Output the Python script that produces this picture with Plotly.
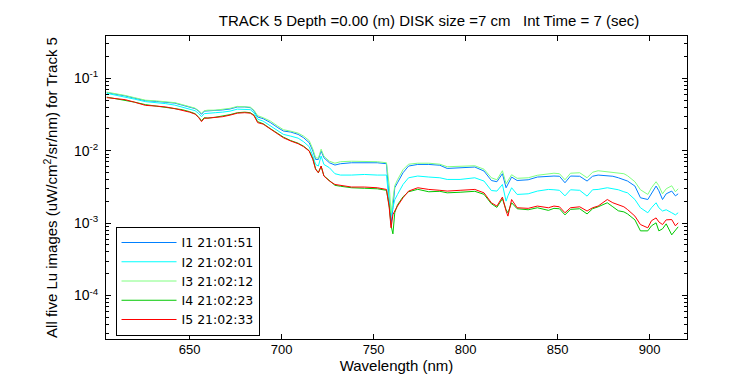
import plotly.graph_objects as go

# Wavelength grid (nm)
wavelength = [605, 610, 615, 620, 626, 632, 637, 642, 646, 650, 653, 655, 656.5, 658, 660, 664, 668, 672, 676, 680,
              683, 685, 687, 690, 694, 698, 701, 705, 709, 712, 715, 717, 718.5, 720, 721.5, 723, 726, 729, 732, 738,
              745, 752, 757, 758.5, 759.5, 760.5, 761.5, 763, 766, 769, 774, 780, 786, 790, 797, 805, 810, 814, 817, 820,
              822, 823, 825, 828, 834, 839, 845, 848, 851, 854, 857, 862, 866, 869, 872, 877, 880, 883, 886, 888,
              892, 895, 899, 901, 903.5, 905, 907, 909, 912, 914, 915.5]

# I1 21:01:51 (blue)
lu_i1 = [0.0634, 0.0605, 0.0571, 0.0532, 0.0491, 0.0479, 0.0472, 0.0454, 0.0426, 0.0400, 0.0381, 0.0352, 0.0318, 0.0352, 0.0354, 0.0357, 0.0366, 0.0377, 0.0402, 0.0402,
         0.0393, 0.0354, 0.0292, 0.0277, 0.0244, 0.0208, 0.0187, 0.0181, 0.0168, 0.0151, 0.0129, 0.00990, 0.00758, 0.00758, 0.00990, 0.00800, 0.00682, 0.00634, 0.00661, 0.00682,
         0.00682, 0.00682, 0.00661, 0.00224, 0.000956, 0.00163, 0.00308, 0.00361, 0.00496, 0.00614, 0.00646, 0.00646, 0.00630, 0.00569, 0.00582, 0.00595, 0.00524, 0.00388, 0.00373, 0.00481,
         0.00308, 0.00350, 0.00433, 0.00388, 0.00397, 0.00433, 0.00447, 0.00447, 0.00444, 0.00361, 0.00447, 0.00444, 0.00381, 0.00444, 0.00461, 0.00451, 0.00444, 0.00423, 0.00403, 0.00381,
         0.00325, 0.00224, 0.00212, 0.00262, 0.00325, 0.00280, 0.00212, 0.00254, 0.00277, 0.00238, 0.00254]

# I2 21:02:01 (cyan)
lu_i2 = [0.0620, 0.0586, 0.0550, 0.0516, 0.0476, 0.0461, 0.0447, 0.0426, 0.0400, 0.0375, 0.0357, 0.0325, 0.0295, 0.0325, 0.0330, 0.0335, 0.0341, 0.0352, 0.0375, 0.0375,
         0.0369, 0.0335, 0.0273, 0.0256, 0.0220, 0.0191, 0.0168, 0.0159, 0.0149, 0.0133, 0.01136, 0.00845, 0.00646, 0.00614, 0.00845, 0.00646, 0.00582, 0.00481, 0.00461, 0.00461,
         0.00470, 0.00461, 0.00461, 0.00191, 0.00126, 0.00163, 0.00210, 0.00249, 0.00342, 0.00423, 0.00447, 0.00433, 0.00423, 0.00401, 0.00401, 0.00423, 0.00381, 0.00282, 0.00277, 0.00342,
         0.00201, 0.00238, 0.00308, 0.00249, 0.00254, 0.00277, 0.00292, 0.00289, 0.00284, 0.00238, 0.00289, 0.00284, 0.00236, 0.00289, 0.00292, 0.00308, 0.00298, 0.00289, 0.00271, 0.00262,
         0.00212, 0.00163, 0.00139, 0.00163, 0.00191, 0.00163, 0.00147, 0.00153, 0.00139, 0.00130, 0.00139]

# I3 21:02:12 (light green)
lu_i3 = [0.0644, 0.0614, 0.0580, 0.0541, 0.0499, 0.0487, 0.0479, 0.0461, 0.0433, 0.0406, 0.0387, 0.0357, 0.0330, 0.0357, 0.0363, 0.0363, 0.0371, 0.0385, 0.0409, 0.0409,
         0.0400, 0.0363, 0.0305, 0.0286, 0.0256, 0.0218, 0.0195, 0.0186, 0.0175, 0.0159, 0.0138, 0.0105, 0.00800, 0.00788, 0.0105, 0.00839, 0.00716, 0.00672, 0.00705, 0.00716,
         0.00716, 0.00705, 0.00682, 0.00328, 0.00139, 0.00203, 0.00328, 0.00397, 0.00546, 0.00651, 0.00672, 0.00672, 0.00651, 0.00601, 0.00610, 0.00620, 0.00555, 0.00423, 0.00397, 0.00529,
         0.00350, 0.00385, 0.00466, 0.00416, 0.00423, 0.00458, 0.00481, 0.00489, 0.00481, 0.00397, 0.00489, 0.00496, 0.00423, 0.00504, 0.00529, 0.00512, 0.00504, 0.00489, 0.00481, 0.00451,
         0.00373, 0.00289, 0.00249, 0.00308, 0.00373, 0.00328, 0.00254, 0.00298, 0.00328, 0.00271, 0.00298]

# I4 21:02:23 (green)
lu_i4 = [0.0550, 0.0524, 0.0499, 0.0469, 0.0433, 0.0413, 0.0400, 0.0381, 0.0369, 0.0346, 0.0325, 0.0290, 0.0260, 0.0286, 0.0282, 0.0290, 0.0300, 0.0315, 0.0335, 0.0341,
         0.0335, 0.0310, 0.0252, 0.0236, 0.0201, 0.0172, 0.0154, 0.0138, 0.0127, 0.01154, 0.0100, 0.00775, 0.00564, 0.00496, 0.00610, 0.00451, 0.00385, 0.00333, 0.00323, 0.00308,
         0.00303, 0.00298, 0.00284, 0.00173, 0.000918, 0.000711, 0.00139, 0.00179, 0.00231, 0.00271, 0.00293, 0.00271, 0.00275, 0.00262, 0.00267, 0.00275, 0.00250, 0.00185, 0.00165, 0.00217,
         0.00153, 0.00139, 0.00191, 0.00158, 0.00153, 0.00163, 0.00150, 0.00160, 0.00158, 0.00130, 0.00155, 0.00158, 0.00134, 0.00158, 0.00168, 0.00191, 0.00168, 0.00148, 0.00143, 0.00134,
         0.00111, 0.000782, 0.000782, 0.000918, 0.00101, 0.000782, 0.000834, 0.000978, 0.000689, 0.000808, 0.000889]

# I5 21:02:33 (red)
lu_i5 = [0.0541, 0.0524, 0.0507, 0.0469, 0.0423, 0.0413, 0.0402, 0.0381, 0.0363, 0.0341, 0.0320, 0.0286, 0.0252, 0.0280, 0.0282, 0.0286, 0.0295, 0.0310, 0.0330, 0.0335,
         0.0330, 0.0305, 0.0244, 0.0233, 0.0197, 0.0168, 0.0151, 0.0136, 0.0125, 0.01136, 0.00990, 0.00758, 0.00551, 0.00496, 0.00614, 0.00447, 0.00381, 0.00342, 0.00331, 0.00315,
         0.00315, 0.00308, 0.00292, 0.00163, 0.000861, 0.00131, 0.00147, 0.00172, 0.00224, 0.00277, 0.00308, 0.00292, 0.00284, 0.00277, 0.00284, 0.00292, 0.00262, 0.00191, 0.00172, 0.00229,
         0.00147, 0.00125, 0.00212, 0.00163, 0.00160, 0.00172, 0.00163, 0.00172, 0.00168, 0.00139, 0.00163, 0.00168, 0.00147, 0.00163, 0.00172, 0.00212, 0.00191, 0.00181, 0.00168, 0.00154,
         0.00125, 0.000956, 0.000861, 0.00108, 0.00118, 0.00104, 0.000956, 0.00111, 0.00112, 0.000918, 0.00101]

series_names = ["I1 21:01:51", "I2 21:02:01", "I3 21:02:12", "I4 21:02:23", "I5 21:02:33"]
series_values = [lu_i1, lu_i2, lu_i3, lu_i4, lu_i5]
series_colors = ["#0080FF", "#00FFFF", "#80FF80", "#00C800", "#FF0000"]

x_ticks = [650, 700, 750, 800, 850, 900]
y_ticks = [1e-4, 1e-3, 1e-2, 1e-1]
y_tick_labels = ["10<sup>-4</sup>", "10<sup>-3</sup>", "10<sup>-2</sup>", "10<sup>-1</sup>"]
y_minor = [m * 10.0 ** e for e in range(-5, 0) for m in range(2, 10)]

FONT = "Liberation Sans"

fig = go.Figure()
for name, vals, col in zip(series_names, series_values, series_colors):
    fig.add_trace(go.Scatter(x=wavelength, y=vals, mode="lines", name=name,
                             line=dict(color=col, width=1)))

fig.update_layout(
    width=750, height=375,
    margin=dict(l=98, r=71, t=28, b=44),
    paper_bgcolor="white", plot_bgcolor="white",
    font=dict(family=FONT, size=13, color="black"),
    title=dict(text="TRACK 5 Depth =0.00 (m) DISK size =7 cm\u00a0\u00a0\u00a0Int Time = 7 (sec)",
               x=421 / 750, xanchor="center", y=1 - 13 / 375, yanchor="middle",
               font=dict(family=FONT, size=15, color="black")),
    showlegend=True,
    legend=dict(x=0.0164, y=0.37, xanchor="left", yanchor="top",
                bgcolor="white", bordercolor="black", borderwidth=1,
                font=dict(family="DejaVu Sans", size=12.5, color="black"),
                itemwidth=55, tracegroupgap=0),
)

fig.update_xaxes(range=[604.6, 920.3], tickmode="array", tickvals=x_ticks,
                 ticks="inside", ticklen=5, tickcolor="black", mirror="ticks",
                 showline=True, linecolor="black", linewidth=1, showgrid=False, zeroline=False,
                 tickfont=dict(family=FONT, size=13, color="black"), ticklabelstandoff=-2,
                 title=dict(text="Wavelength (nm)", standoff=2, font=dict(family=FONT, size=15)))

fig.update_yaxes(type="log", range=[-4.6, -0.416], tickmode="array", tickvals=y_ticks, ticktext=y_tick_labels,
                 ticks="inside", ticklen=5, tickcolor="black", mirror="ticks",
                 showline=True, linecolor="black", linewidth=1, showgrid=False, zeroline=False,
                 tickfont=dict(family=FONT, size=14, color="black"), ticklabelstandoff=4,
                 minor=dict(tickmode="array", tickvals=y_minor, ticks="inside", ticklen=3, tickcolor="black", showgrid=False),
                 title=dict(text="All five Lu images (uW/cm<sup>2</sup>/sr/nm) for Track 5", standoff=12,
                            font=dict(family=FONT, size=15)))

fig.write_html("out.html")
